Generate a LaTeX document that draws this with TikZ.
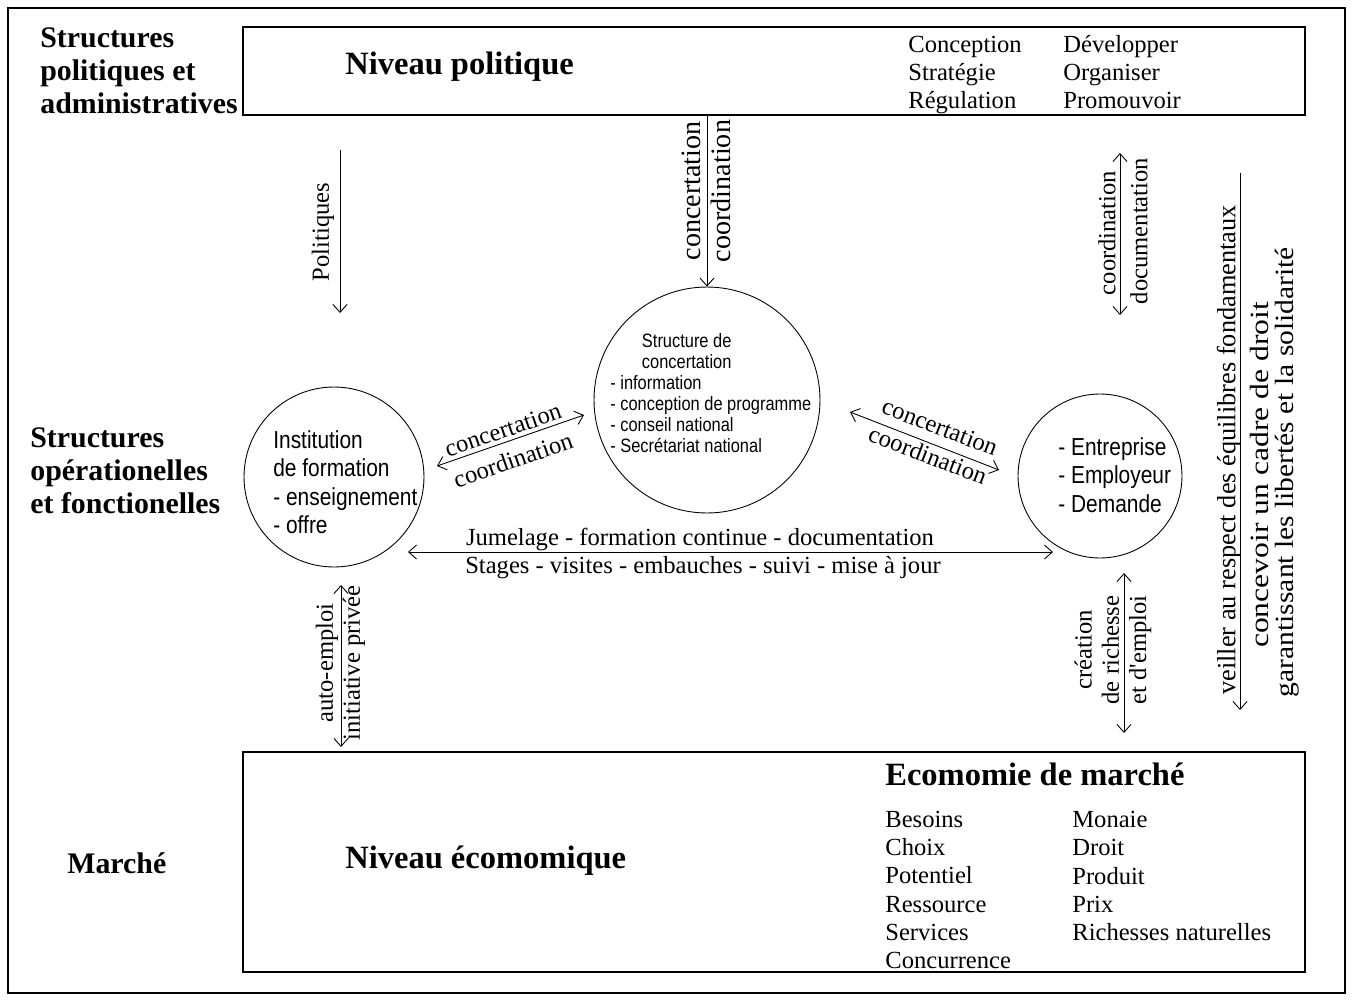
\documentclass[tikz,border=0pt]{standalone}
\usepackage{fontspec}
\setmainfont{Liberation Serif}
\newfontfamily\narrowsans[FakeStretch=0.85]{Liberation Sans}
\newfontfamily\largeserif[FakeStretch=1.2]{Liberation Serif}
\newfontfamily\midserif[FakeStretch=1.12]{Liberation Serif}
\usetikzlibrary{arrows.meta}

\begin{document}
\begin{tikzpicture}[x=0.02cm,y=-0.02cm,
    cadre/.style={draw,line width=0.8pt,inner sep=0pt,outer sep=0pt,anchor=north west},
    rond/.style={draw,circle,line width=0.5pt,inner sep=0pt},
    niveau/.style={font=\fontsize{17}{18.8}\selectfont\bfseries,align=left,anchor=west,inner sep=0pt},
    titre/.style={font=\fontsize{18.5}{21}\selectfont\bfseries,anchor=west,inner sep=0pt},
    liste/.style={font=\fontsize{14}{16}\selectfont,align=left,anchor=west,inner sep=0pt},
    rondtxt/.style={font=\narrowsans\fontsize{14}{16.2}\selectfont,align=left,anchor=west,inner sep=0pt},
    lbl/.style={font=\fontsize{14}{15.5}\selectfont,inner sep=0pt},
    fl/.style={line width=0.5pt,-{Straight Barb[length=4.5pt,width=8pt]}},
    dfl/.style={line width=0.5pt,{Straight Barb[length=4.5pt,width=8pt]}-{Straight Barb[length=4.5pt,width=8pt]}}]
    \useasboundingbox (0,0) rectangle (1353,1001);
    \draw[line width=1.2pt] (8,8) rectangle (1345,993);

    \node[cadre,minimum width=21.24cm,minimum height=1.76cm] (polbox) at (243,27) {};
    \node[cadre,minimum width=21.24cm,minimum height=4.4cm] (ecobox) at (243,752) {};

    \node[niveau] (spol) at (40,71) {Structures\\politiques et\\administratives};
    \node[niveau] (sop) at (30,471) {Structures\\opérationelles\\et fonctionelles};
    \node[niveau] (marche) at (67,863) {Marché};

    \node[titre] (npol) at (345,67) {Niveau politique};
    \node[liste] (pol1) at (908,75) {Conception\\Stratégie\\Régulation};
    \node[liste] (pol2) at (1063,72) {Développer\\Organiser\\Promouvoir};

    \node[titre] (neco) at (345,861) {Niveau écomomique};
    \node[titre] (ecomarche) at (885,774) {Ecomomie de marché};
    \node[liste] (eco1) at (885,890) {Besoins\\Choix\\Potentiel\\Ressource\\Services\\Concurrence};
    \node[liste] (eco2) at (1072,876) {Monaie\\Droit\\Produit\\Prix\\Richesses naturelles};

    \node[rond,minimum size=3.6cm] (inst) at (334,477) {};
    \node[rond,minimum size=4.52cm] (conc) at (707,400) {};
    \node[rond,minimum size=3.28cm] (entr) at (1100,476) {};
    \node[rondtxt] (insttxt) at (273,482) {Institution\\de formation\\- enseignement\\- offre};
    \node[rondtxt,font=\narrowsans\fontsize{11}{12}\selectfont] (conctxt) at (610,393)
      {\hspace*{18pt}Structure de\\\hspace*{18pt}concertation\\- information\\- conception de programme\\- conseil national\\- Secrétariat national};
    \node[rondtxt] (entrtxt) at (1058,475) {- Entreprise\\- Employeur\\- Demande};

    \coordinate (p1) at (340,150);
    \coordinate (p2) at (340,313);
    \draw[fl] (p1) -- (p2);
    \node[lbl,rotate=90] (lpol) at (323,232) {Politiques};

    \draw[fl] (polbox.south -| conc) -- (conc.north);
    \node[lbl,rotate=90,font=\fontsize{16}{17}\selectfont] (lconc1) at (691,191) {concertation};
    \node[lbl,rotate=90,font=\fontsize{16}{17}\selectfont] (lcoord1) at (721,191) {coordination};

    \coordinate (d1) at (1120,153);
    \coordinate (d2) at (1120,315);
    \draw[dfl] (d1) -- (d2);
    \node[lbl,rotate=90] (lcoord2) at (1107,233) {coordination};
    \node[lbl,rotate=90] (ldoc) at (1139,231) {documentation};

    \coordinate (v1) at (1240,173);
    \coordinate (v2) at (1240,710);
    \draw[fl] (v1) -- (v2);
    \node[lbl,rotate=90,font=\fontsize{15}{17}\selectfont] (lveil) at (1229,450) {veiller au respect des équilibres fondamentaux};
    \node[lbl,rotate=90,font=\largeserif\fontsize{15}{17}\selectfont] (lcadre) at (1259,475) {concevoir un cadre de droit};
    \node[lbl,rotate=90,font=\midserif\fontsize{15}{17}\selectfont] (lgar) at (1287,472) {garantissant les libertés et la solidarité};

    \coordinate (g1) at (437,466);
    \coordinate (g2) at (584,415);
    \draw[dfl] (g1) -- (g2);
    \node[lbl,rotate=19] (lconc2) at (503,430) {concertation};
    \node[lbl,rotate=19] (lcoord3) at (513,460) {coordination};

    \coordinate (h1) at (850,412);
    \coordinate (h2) at (999,470);
    \draw[dfl] (h1) -- (h2);
    \node[lbl,rotate=-21] (lconc3) at (940,427) {concertation};
    \node[lbl,rotate=-21] (lcoord4) at (928,455) {coordination};

    \coordinate (j1) at (408,552);
    \coordinate (j2) at (1053,552);
    \draw[dfl] (j1) -- (j2);
    \node[lbl,anchor=base] (ljum) at (700,545) {Jumelage - formation continue - documentation};
    \node[lbl,anchor=base] (lstag) at (703,573) {Stages - visites - embauches - suivi - mise à jour};

    \coordinate (a1) at (341,585);
    \coordinate (a2) at (341,747);
    \draw[dfl] (a1) -- (a2);
    \node[lbl,rotate=90] (lauto) at (327,663) {auto-emploi};
    \node[lbl,rotate=90] (linit) at (354,663) {initiative privée};

    \coordinate (c1) at (1124,573);
    \coordinate (c2) at (1124,733);
    \draw[dfl] (c1) -- (c2);
    \node[lbl,rotate=90,align=center] (lcrea) at (1113,650) {création\\de richesse\\et d\textquotesingle emploi};
  \end{tikzpicture}
\end{document}
